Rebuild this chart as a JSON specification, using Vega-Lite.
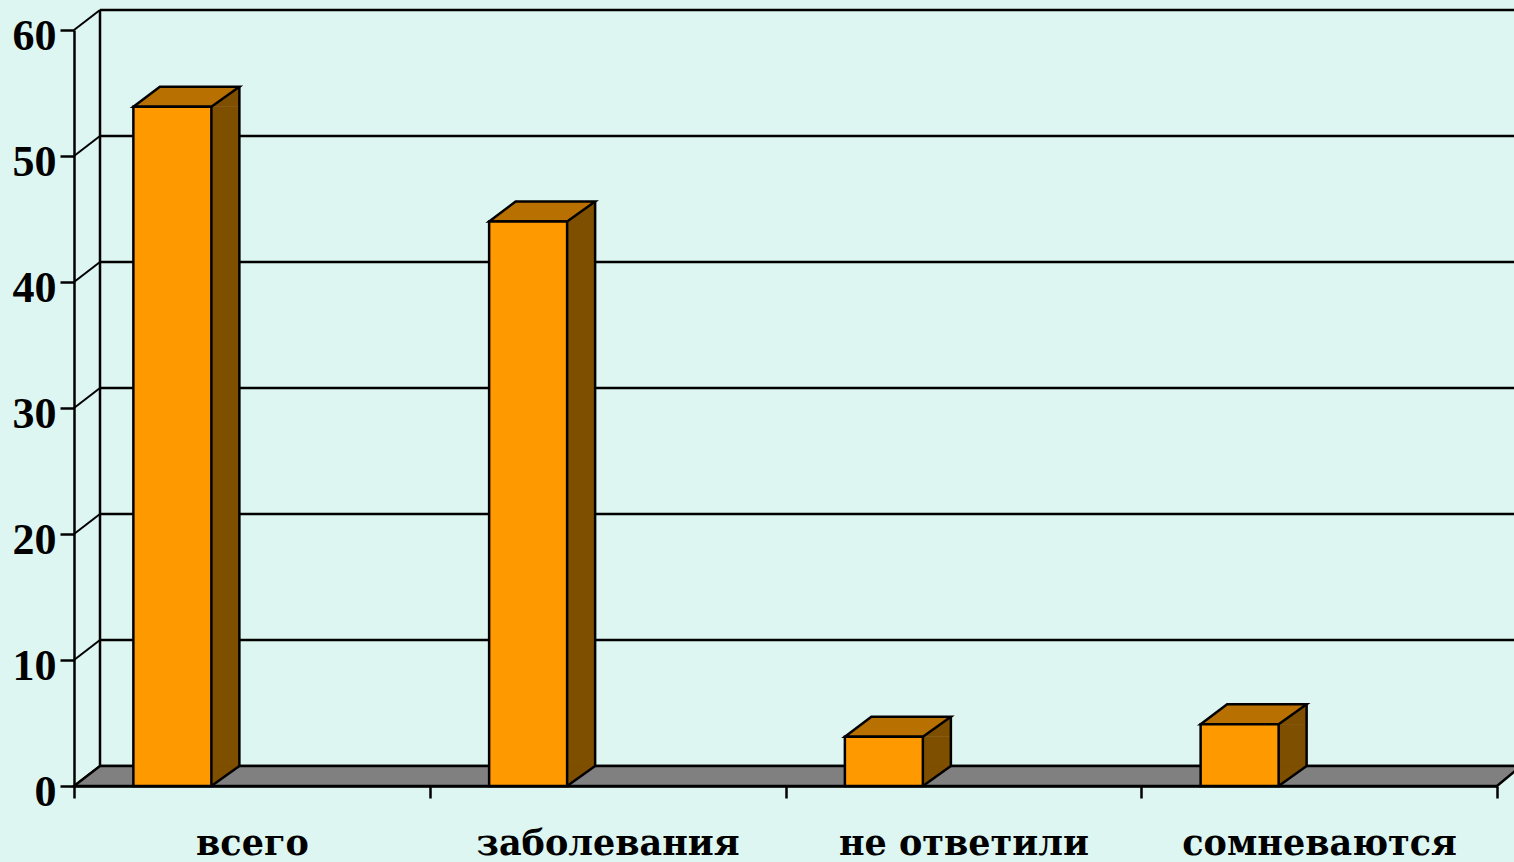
{
"$schema":"https://vega.github.io/schema/vega-lite/v6.json",
"width":1423,"height":756,
"autosize":{"type":"none"},
"padding":{"left":74,"top":30,"right":17,"bottom":76},
"background":"#DDF6F1",
"view":{"stroke":null},
"config":{"view":{"stroke":null}},
"datasets":{
"bars":[{"category":"всего","value":53.9},{"category":"заболевания","value":44.8},{"category":"не ответили","value":3.9},{"category":"сомневаются","value":4.9}],
"ticks":[{"v":0},{"v":10},{"v":20},{"v":30},{"v":40},{"v":50},{"v":60}]
},
"layer":[
{"data":{"name":"ticks"},"mark":{"type":"rule","color":"#000","strokeWidth":2.5,"yOffset":-20,"y2Offset":-20},
 "encoding":{"y":{"field":"v","type":"quantitative","scale":{"domain":[0,60],"nice":false},
   "axis":{"values":[0,10,20,30,40,50,60],"title":null,"grid":false,"domainColor":"#000","domainWidth":2.5,"tickColor":"#000","tickWidth":2.5,"tickSize":14,"labelFont":"Liberation Serif","labelFontWeight":"bold","labelFontSize":44,"labelColor":"#000","labelPadding":4,"labelOffset":6}},
   "x":{"value":26},"x2":{"value":1500},"y2":{"field":"v"}}},
{"data":{"values":[{"v":0}]},"mark":{"type":"rule","color":"#000","strokeWidth":2.5,"xOffset":26,"yOffset":-20,"y2Offset":-20},
 "encoding":{"x":{"value":0},"y":{"datum":60,"type":"quantitative"},"y2":{"datum":0}}},
{"data":{"name":"ticks"},"mark":{"type":"point","shape":"M0,0L26,-20","size":4,"filled":false,"stroke":"#000","strokeWidth":2,"opacity":1},
 "encoding":{"x":{"value":0},"y":{"field":"v","type":"quantitative"}}},
{"data":{"values":[{"v":0}]},"mark":{"type":"point","shape":"M0,0L26,-20L1447,-20L1423,0Z","size":4,"filled":true,"fill":"#808080","stroke":"#000","strokeWidth":2.5,"opacity":1},
 "encoding":{"x":{"value":0},"y":{"field":"v","type":"quantitative"}}},
{"data":{"name":"bars"},"mark":{"type":"bar","size":28,"xOffset":-26.5,"y2Offset":-20,"fill":"#7F4F00"},
 "encoding":{"x":{"field":"category","type":"nominal","sort":null,"scale":{"type":"band","paddingInner":0,"paddingOuter":0},
   "axis":{"title":null,"tickBand":"extent","domainColor":"#000","domainWidth":2.5,"tickColor":"#000","tickWidth":2.5,"tickSize":12,"labelAngle":0,"labelLimit":0,"labelFont":"DejaVu Serif","labelFontWeight":"bold","labelFontSize":35,"labelColor":"#000","labelPadding":45,"labelBaseline":"middle"}},
   "y":{"field":"value","type":"quantitative"},"y2":{"datum":0}}},
{"data":{"name":"bars"},"mark":{"type":"point","shape":"M-40.5,0L-40.5,-20L-12.5,-20Z","size":4,"filled":true,"fill":"#7F4F00","stroke":"#7F4F00","opacity":1,"strokeWidth":1},
 "encoding":{"x":{"field":"category","type":"nominal","sort":null},"y":{"datum":0,"type":"quantitative"}}},
{"data":{"name":"bars"},"mark":{"type":"point","shape":"M-40.5,0L-12.5,-20L-12.5,0Z","size":4,"filled":true,"fill":"#7F4F00","stroke":"#7F4F00","opacity":1,"strokeWidth":1},
 "encoding":{"x":{"field":"category","type":"nominal","sort":null},"y":{"field":"value","type":"quantitative"}}},
{"data":{"name":"bars"},"mark":{"type":"point","shape":"M-40.5,0L-12.5,-20","size":4,"filled":false,"stroke":"#000","strokeWidth":2.5,"opacity":1},
 "encoding":{"x":{"field":"category","type":"nominal","sort":null},"y":{"datum":0,"type":"quantitative"}}},
{"data":{"name":"bars"},"mark":{"type":"rule","color":"#000","strokeWidth":2.5,"xOffset":-12.5,"yOffset":-20,"y2Offset":-20},
 "encoding":{"x":{"field":"category","type":"nominal","sort":null},"y":{"field":"value","type":"quantitative"},"y2":{"datum":0}}},
{"data":{"name":"bars"},"mark":{"type":"point","shape":"M-118.5,0L-92,-20L-12.5,-20L-40.5,0Z","size":4,"filled":true,"fill":"#B87000","stroke":"#000","strokeWidth":2.5,"opacity":1},
 "encoding":{"x":{"field":"category","type":"nominal","sort":null},"y":{"field":"value","type":"quantitative"}}},
{"data":{"name":"bars"},"mark":{"type":"bar","size":78,"xOffset":-79.5,"fill":"#FF9900","stroke":"#000","strokeWidth":2.5},
 "encoding":{"x":{"field":"category","type":"nominal","sort":null},"y":{"field":"value","type":"quantitative"},"y2":{"datum":0}}}
]
}
